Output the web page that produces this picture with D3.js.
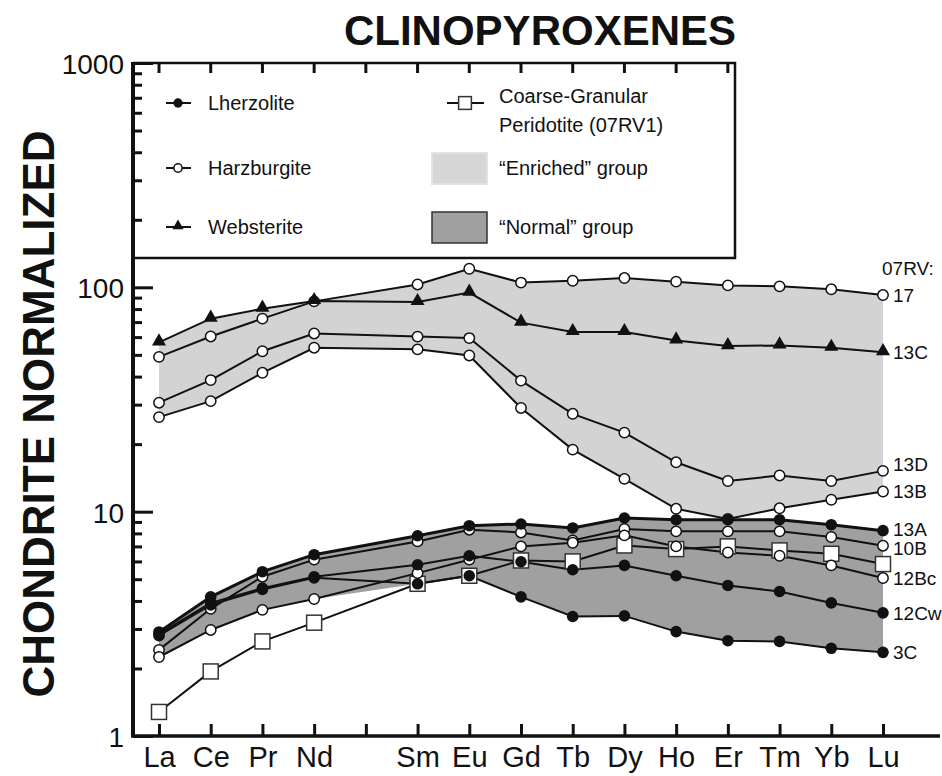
<!DOCTYPE html>
<html>
<head>
<meta charset="utf-8">
<script src="https://cdn.jsdelivr.net/npm/d3@7"></script>
<style>
  body { margin: 0; background: #fff; }
  svg { display: block; font-family: "Liberation Sans", Arial, sans-serif; }
</style>
</head>
<body>
<svg width="942" height="776"></svg>
<script>
// element order on the x axis (Pm has no data, no label)
let elements = ['La', 'Ce', 'Pr', 'Nd', 'Pm', 'Sm', 'Eu', 'Gd', 'Tb', 'Dy', 'Ho', 'Er', 'Tm', 'Yb', 'Lu']
let ree = ['La', 'Ce', 'Pr', 'Nd', 'Sm', 'Eu', 'Gd', 'Tb', 'Dy', 'Ho', 'Er', 'Tm', 'Yb', 'Lu']
let yTicks = [1, 10, 100, 1000]

// chondrite normalized values
let s17   = [49.0, 60.4, 72.5, 86.6, 103, 121, 105, 107, 110, 106, 102, 101, 98, 92.4]
let s13C  = [56.8, 72.5, 80.3, 86.9, 86.0, 94.7, 69.6, 63.2, 63.2, 58.0, 54.7, 55.1, 53.8, 51.4]
let s13D  = [30.6, 38.6, 51.9, 62.3, 60.3, 59.4, 38.4, 27.3, 22.5, 16.6, 13.7, 14.5, 13.7, 15.2]
let s13B  = [26.4, 31.1, 41.6, 53.8, 52.9, 49.7, 29.0, 18.9, 14.0, 10.3, 9.28, 10.35, 11.3, 12.3]
let s13A  = [2.91, 4.17, 5.40, 6.43, 7.81, 8.66, 8.81, 8.46, 9.37, 9.21, 9.21, 9.21, 8.75, 8.23]
let s10B  = [2.42, 3.69, 5.13, 6.11, 7.37, 8.31, 8.08, 7.44, 8.37, 8.17, 8.17, 8.17, 7.71, 7.05]
let s12Bc = [2.25, 2.97, 3.65, 4.08, 5.32, 6.11, 7.00, 7.27, 7.84, 7.00, 6.58, 6.36, 5.76, 5.06]
let s12Cw = [2.85, 3.92, 4.56, 5.13, 5.80, 6.36, 5.98, 5.51, 5.76, 5.18, 4.69, 4.41, 3.92, 3.54]
let s3C   = [2.80, 3.84, 4.50, 5.07, 4.77, 5.18, 4.17, 3.41, 3.43, 2.92, 2.66, 2.64, 2.46, 2.36]
let s07RV1 = [1.28, 1.94, 2.64, 3.20, 4.77, 5.18, 6.06, 6.00, 7.07, 6.81, 7.00, 6.72, 6.49, 5.84]

let samples = [
  { name: '17', type: 'harz', values: s17 },
  { name: '13C', type: 'web', values: s13C },
  { name: '13D', type: 'harz', values: s13D },
  { name: '13B', type: 'harz', values: s13B },
  { name: '13A', type: 'lherz', values: s13A },
  { name: '10B', type: 'harz', values: s10B },
  { name: '12Bc', type: 'harz', values: s12Bc },
  { name: '12Cw', type: 'lherz', values: s12Cw },
  { name: '3C', type: 'lherz', values: s3C },
  { name: '07RV1', type: 'coarse', values: s07RV1 }
]
let enriched = [s17, s13C, s13D, s13B]
let normal = [s13A, s10B, s12Bc, s12Cw, s3C]

let svg = d3.select('svg')
let plotLeft = 133, plotTop = 63, plotBottom = 736

let xScale = d3.scalePoint().domain(elements).range([159, 883])
let yScale = d3.scaleLog().domain([1, 1000]).range([plotBottom, plotTop])

// shaded group envelopes
let envelope = (group) => ree.map((el, i) => ({
  el: el,
  hi: d3.max(group, (s) => s[i]),
  lo: d3.min(group, (s) => s[i])
}))
let area = d3.area()
  .x((d) => xScale(d.el))
  .y0((d) => yScale(d.lo))
  .y1((d) => yScale(d.hi))

svg.append('path').datum(envelope(enriched))
  .attr('d', area).attr('fill', '#d3d3d3')
svg.append('path').datum(envelope(normal))
  .attr('d', area).attr('fill', '#a0a0a0')

// lines
let line = d3.line()
  .x((d) => xScale(d.el))
  .y((d) => yScale(d.v))
let pts = (s) => ree.map((el, i) => ({ el: el, v: s.values[i] }))

svg.selectAll('.series')
  .data(samples)
  .enter()
  .append('path')
  .attr('class', 'series')
  .attr('d', (s) => line(pts(s)))
  .attr('fill', 'none')
  .attr('stroke', '#111')
  .attr('stroke-width', (s) => s.name === '13A' ? 3 : 2)

// markers: squares first, then circles and triangles on top
let drawMarker = (g, type, x, y, scale) => {
  let k = scale || 1
  if (type === 'coarse') {
    g.append('rect').attr('x', x - 7.5 * k).attr('y', y - 7.5 * k)
      .attr('width', 15 * k).attr('height', 15 * k)
      .attr('fill', '#fff').attr('stroke', '#333').attr('stroke-width', 1.5)
  } else if (type === 'harz') {
    g.append('circle').attr('cx', x).attr('cy', y).attr('r', 5.2 * k)
      .attr('fill', '#fff').attr('stroke', '#111').attr('stroke-width', 1.5)
  } else if (type === 'lherz') {
    g.append('circle').attr('cx', x).attr('cy', y).attr('r', 5.8 * k)
      .attr('fill', '#111')
  } else {
    g.append('path')
      .attr('d', d3.symbol().type(d3.symbolTriangle).size(85 * k * k)())
      .attr('transform', 'translate(' + x + ',' + (y - 1) + ')')
      .attr('fill', '#111')
  }
}
let markerLayer = svg.append('g')
let order = ['coarse', 'harz', 'lherz', 'web']
order.forEach((t) => {
  samples.filter((s) => s.type === t).forEach((s) => {
    pts(s).forEach((p) => drawMarker(markerLayer, t, xScale(p.el), yScale(p.v)))
  })
})

// sample labels at the right
let labelShift = { '13D': -7, '13A': -2, '10B': 2 }
svg.append('text').attr('x', 882).attr('y', 275)
  .attr('font-size', 19).attr('fill', '#111').text('07RV:')
samples.filter((s) => s.name !== '07RV1').forEach((s) => {
  svg.append('text')
    .attr('x', 893)
    .attr('y', yScale(s.values[s.values.length - 1]) + 7 + (labelShift[s.name] || 0))
    .attr('font-size', 19)
    .attr('fill', '#111')
    .text(s.name)
})

// y axis: major and minor ticks pointing in
let minor = []
for (let d = 1; d < 1000; d *= 10) {
  for (let m = 2; m <= 9; m++) minor.push(d * m)
}
svg.append('g')
  .attr('transform', 'translate(' + plotLeft + ',0)')
  .call(d3.axisLeft(yScale).tickValues(minor).tickSizeInner(-9).tickSizeOuter(0).tickFormat(''))
  .call((g) => g.select('.domain').remove())
  .call((g) => g.selectAll('line').attr('stroke', '#111').attr('stroke-width', 3))
svg.append('g')
  .attr('transform', 'translate(' + plotLeft + ',0)')
  .call(d3.axisLeft(yScale).tickValues(yTicks).tickSizeInner(-20).tickSizeOuter(0)
    .tickPadding(9).tickFormat(d3.format('d')))
  .call((g) => g.select('.domain').remove())
  .call((g) => g.selectAll('line').attr('stroke', '#111').attr('stroke-width', 3))
  .call((g) => g.selectAll('text').attr('font-size', 28).attr('fill', '#111')
    .attr('dy', '0.38em')
    .attr('font-family', '"Liberation Sans", Arial, sans-serif'))

// x axis
svg.append('g')
  .attr('transform', 'translate(0,' + plotBottom + ')')
  .call(d3.axisBottom(xScale).tickSizeInner(-12).tickSizeOuter(0).tickPadding(10)
    .tickFormat((d) => d === 'Pm' ? '' : d))
  .call((g) => g.select('.domain').remove())
  .call((g) => g.selectAll('line').attr('stroke', '#111').attr('stroke-width', 3))
  .call((g) => g.selectAll('text').attr('font-size', 29).attr('fill', '#111')
    .attr('font-family', '"Liberation Sans", Arial, sans-serif'))

svg.append('line').attr('x1', plotLeft - 2).attr('x2', 940)
  .attr('y1', plotBottom).attr('y2', plotBottom)
  .attr('stroke', '#111').attr('stroke-width', 3.5)
svg.append('line').attr('x1', plotLeft).attr('x2', plotLeft)
  .attr('y1', plotTop - 1).attr('y2', plotBottom + 1)
  .attr('stroke', '#111').attr('stroke-width', 4)

// legend box sharing the top border
let legendRight = 735, legendBottom = 258
svg.append('path')
  .attr('d', 'M' + plotLeft + ',' + plotTop + 'H' + legendRight + 'V' + legendBottom + 'H' + plotLeft)
  .attr('fill', 'none').attr('stroke', '#111').attr('stroke-width', 2.5)
elements.filter((el) => xScale(el) < legendRight).forEach((el) => {
  svg.append('line').attr('x1', xScale(el)).attr('x2', xScale(el))
    .attr('y1', plotTop).attr('y2', plotTop + 10)
    .attr('stroke', '#111').attr('stroke-width', 3)
})

let legend = svg.append('g').attr('font-size', 20).attr('fill', '#111')
let legendItems = [
  { type: 'lherz', label: 'Lherzolite', x: 166, y: 103 },
  { type: 'harz', label: 'Harzburgite', x: 166, y: 168 },
  { type: 'web', label: 'Websterite', x: 166, y: 227 }
]
legendItems.forEach((it) => {
  legend.append('line').attr('x1', it.x).attr('x2', it.x + 25)
    .attr('y1', it.y).attr('y2', it.y).attr('stroke', '#111').attr('stroke-width', 2)
  drawMarker(legend, it.type, it.x + 12, it.y, 0.8)
  legend.append('text').attr('x', it.x + 42).attr('y', it.y + 7).text(it.label)
})
legend.append('line').attr('x1', 447).attr('x2', 484)
  .attr('y1', 103).attr('y2', 103).attr('stroke', '#111').attr('stroke-width', 2)
drawMarker(legend, 'coarse', 465, 103, 0.85)
legend.append('text').attr('x', 499).attr('y', 103).text('Coarse-Granular')
legend.append('text').attr('x', 499).attr('y', 132).text('Peridotite (07RV1)')
legend.append('rect').attr('x', 432).attr('y', 153).attr('width', 55).attr('height', 31)
  .attr('fill', '#d6d6d6').attr('stroke', '#e2e2e2').attr('stroke-width', 2)
legend.append('text').attr('x', 499).attr('y', 175).text('\u201cEnriched\u201d group')
legend.append('rect').attr('x', 432).attr('y', 212).attr('width', 55).attr('height', 31)
  .attr('fill', '#a0a0a0').attr('stroke', '#333').attr('stroke-width', 1.5)
legend.append('text').attr('x', 499).attr('y', 234).text('\u201cNormal\u201d group')

// titles
svg.append('text').attr('x', 540).attr('y', 45).attr('text-anchor', 'middle')
  .attr('font-size', 42).attr('font-weight', 'bold').attr('fill', '#111')
  .text('CLINOPYROXENES')
svg.append('text')
  .attr('transform', 'translate(54,414) rotate(-90)')
  .attr('text-anchor', 'middle')
  .attr('font-size', 44).attr('font-weight', 'bold').attr('fill', '#111')
  .text('CHONDRITE NORMALIZED')
</script>
</body>
</html>
